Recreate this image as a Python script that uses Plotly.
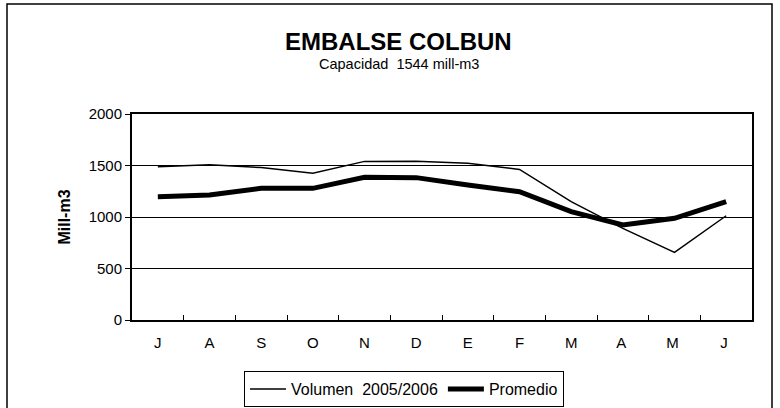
import plotly.graph_objects as go

months = ["J", "A", "S", "O", "N", "D", "E", "F", "M", "A ", "M ", "J "]
volumen = [1488, 1508, 1480, 1424, 1540, 1542, 1521, 1462, 1149, 890, 657, 1012]
promedio = [1197, 1213, 1278, 1278, 1385, 1382, 1310, 1246, 1052, 922, 987, 1149]
y_ticks = [0, 500, 1000, 1500, 2000]

FONT = "Liberation Sans, Arial, sans-serif"

fig = go.Figure()
fig.add_trace(go.Scatter(x=months, y=volumen, mode="lines", name="Volumen&nbsp; 2005/2006",
                         line=dict(color="black", width=1.5)))
fig.add_trace(go.Scatter(x=months, y=promedio, mode="lines", name="Promedio",
                         line=dict(color="black", width=5)))

L, R, T, B = 132, 28, 114, 88
W, H = 780, 408
pw, ph = W - L - R, H - T - B

def px(x):
    return (x - L) / pw

def py(y):
    return (H - B - y) / ph

fig.update_layout(
    width=W, height=H,
    margin=dict(l=L, r=R, t=T, b=B, autoexpand=False),
    paper_bgcolor="white", plot_bgcolor="white",
    font=dict(family=FONT, size=15, color="black"),
    showlegend=True,
    legend=dict(orientation="h", x=px(404), y=py(389), xanchor="center", yanchor="middle",
                bordercolor="black", borderwidth=1, font=dict(size=16, family=FONT),
                bgcolor="white", itemwidth=36),
    xaxis=dict(type="category", range=[-0.5, 11.5], tickson="boundaries", ticks="inside",
               ticklen=5, tickcolor="black", showline=True, linecolor="black", linewidth=2,
               mirror=True, showgrid=False, tickfont=dict(size=15), automargin=False,
               ticklabelstandoff=8),
    yaxis=dict(range=[0, 2000], tickvals=y_ticks, ticks="outside", ticklen=5,
               tickcolor="black", showline=True, linecolor="black", linewidth=2,
               mirror=True, showgrid=True, gridcolor="black", gridwidth=1,
               zeroline=False, tickfont=dict(size=15), automargin=False,
               title=dict(text="<b>Mill-m3</b>", font=dict(size=16), standoff=14)),
    annotations=[
        dict(text="<b>EMBALSE COLBUN</b>", x=px(398), y=py(42), xref="paper", yref="paper",
             xanchor="center", yanchor="middle", showarrow=False,
             font=dict(size=24, family=FONT)),
        dict(text="Capacidad&nbsp; 1544 mill-m3", x=px(399), y=py(64), xref="paper", yref="paper",
             xanchor="center", yanchor="middle", showarrow=False,
             font=dict(size=14.5, family=FONT)),
    ],
    shapes=[
        dict(type="rect", xref="paper", yref="paper", x0=px(7), x1=px(772), y0=py(410), y1=py(4),
             line=dict(color="black", width=1.5), layer="below"),
    ],
)

fig.write_html("out.html", post_script="document.body.style.margin='0';",
               config={"displayModeBar": False})
